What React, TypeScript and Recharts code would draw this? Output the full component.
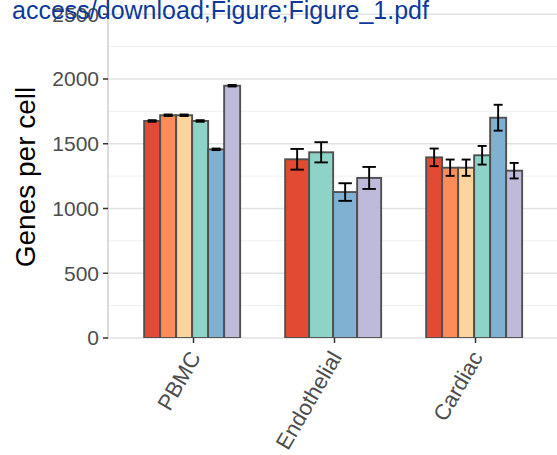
import { BarChart, Bar, XAxis, YAxis, CartesianGrid } from 'recharts';

const categories = ['PBMC', 'Endothelial', 'Cardiac'];
const groupColors = ['#E34A33', '#FC8D59', '#FDD49E', '#8DD3C7', '#80B1D3', '#BEBADA'];

// mean genes per cell and error per group, null where a group was not measured
const pbmcMean = [1676, 1720, 1720, 1676, 1457, 1948];
const pbmcErr = [6, 6, 6, 6, 6, 6];
const endothelialMean = [1380, null, null, 1434, 1127, 1236];
const endothelialErr = [80, null, null, 78, 68, 85];
const cardiacMean = [1395, 1315, 1315, 1411, 1701, 1292];
const cardiacErr = [68, 63, 63, 72, 100, 60];

const yTicks = [0, 500, 1000, 1500, 2000, 2500];
const yMinor = [250, 750, 1250, 1750, 2250];

const SLOTS = 6;
const FONT = '"Liberation Sans", Arial, sans-serif';

// pack the present groups of each category into consecutive slots
const rows = categories.map((name, i) => {
  const means = [pbmcMean, endothelialMean, cardiacMean][i];
  const errs = [pbmcErr, endothelialErr, cardiacErr][i];
  const row: any = { name, count: 0 };
  let k = 0;
  means.forEach((m, g) => {
    if (m == null) return;
    row[`v${k}`] = m;
    row[`e${k}`] = errs[g];
    row[`c${k}`] = groupColors[g];
    k++;
  });
  row.count = k;
  return row;
});

// bars of one category share the full dodge width, however many there are
const renderSlot = (k: number) => (props: any) => {
  const { x, y, width, height, payload, value } = props;
  if (value == null || k >= payload.count) return <g />;
  const groupStart = x - k * width;
  const w = (SLOTS * width) / payload.count;
  const bx = groupStart + k * w;
  const pxPerUnit = height / value;
  const err = payload[`e${k}`] * pxPerUnit;
  const cx = bx + w / 2;
  const cap = w * 0.28;
  return (
    <g>
      <rect x={bx} y={y} width={w} height={height} fill={payload[`c${k}`]} stroke="#505050" strokeWidth={1.9} />
      <line x1={cx} x2={cx} y1={y - err} y2={y + err} stroke="#000" strokeWidth={1.9} />
      <line x1={cx - cap} x2={cx + cap} y1={y - err} y2={y - err} stroke="#000" strokeWidth={1.9} />
      <line x1={cx - cap} x2={cx + cap} y1={y + err} y2={y + err} stroke="#000" strokeWidth={1.9} />
    </g>
  );
};

const XTick = ({ x, y, payload }: any) => {
  const ax = x + 8;
  const ay = y + 12;
  return (
    <text
      x={ax}
      y={ay}
      transform={`rotate(-60, ${ax}, ${ay})`}
      textAnchor="end"
      fill="#4d4d4d"
      fontSize={22}
      fontFamily={FONT}
    >
      {payload.value}
    </text>
  );
};

export default function App() {
  return (
    <div style={{ position: 'absolute', left: 0, top: 0, width: 557, height: 455, overflow: 'hidden', background: '#fff' }}>
      <BarChart
        width={560}
        height={455}
        data={rows}
        margin={{ top: 0, right: 0, bottom: 0, left: 0 }}
        barCategoryGap="15%"
        barGap={0}
      >
        <CartesianGrid horizontalValues={yMinor} vertical={false} stroke="#f0f0f0" strokeWidth={1} />
        <CartesianGrid horizontalValues={yTicks} vertical={false} stroke="#e2e2e2" strokeWidth={1.3} />
        <XAxis
          dataKey="name"
          height={117}
          axisLine={false}
          tickLine={{ stroke: '#333', strokeWidth: 1.5 }}
          tickSize={5}
          padding={{ left: 15, right: 14 }}
          tick={<XTick />}
          interval={0}
        />
        <YAxis
          width={108}
          domain={[0, 2610]}
          ticks={yTicks}
          allowDataOverflow
          axisLine={{ stroke: '#c4c4c4', strokeWidth: 1.2 }}
          tickLine={{ stroke: '#333', strokeWidth: 1.5 }}
          tickSize={5}
          tickMargin={4}
          tick={{ fill: '#4d4d4d', fontSize: 21, fontFamily: FONT }}
          label={() => (
            <text
              x={35}
              y={177}
              transform="rotate(-90, 35, 177)"
              textAnchor="middle"
              fontSize={28}
              fontFamily={FONT}
              fill="#000"
            >
              Genes per cell
            </text>
          )}
        />
        {Array.from({ length: SLOTS }, (_, k) => (
          <Bar key={k} dataKey={`v${k}`} isAnimationActive={false} shape={renderSlot(k)} />
        ))}
      </BarChart>
      <div
        style={{
          position: 'absolute',
          left: 12,
          top: -2,
          fontFamily: FONT,
          fontSize: 25,
          lineHeight: '25px',
          color: '#0d3a9a',
          whiteSpace: 'nowrap',
        }}
      >
        access/download;Figure;Figure_1.pdf
      </div>
    </div>
  );
}
